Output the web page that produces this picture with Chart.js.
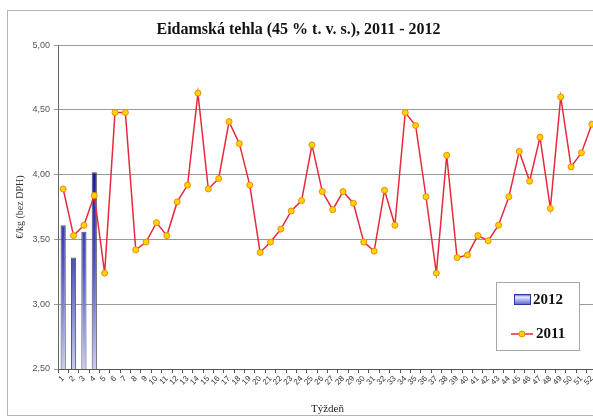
<!DOCTYPE html>
<html>
<head>
<meta charset="utf-8">
<script src="https://cdn.jsdelivr.net/npm/chart.js@4"></script>
<style>
  html, body { margin: 0; padding: 0; background: #fff; overflow: hidden; }
  #wrap { position: absolute; left: 0; top: 0; width: 630px; height: 420px; }
</style>
</head>
<body>
<div id="wrap"><canvas id="c"></canvas></div>
<script>
const TITLE = "Eidamská tehla (45 % t. v. s.), 2011 - 2012";
const WEEKS = [];
for (let i = 1; i <= 52; i++) WEEKS.push(String(i));

const Y2011 = [
  3.89, 3.53, 3.61, 3.84, 3.24, 4.48, 4.48, 3.42, 3.48, 3.63,
  3.53, 3.79, 3.92, 4.63, 3.89, 3.97, 4.41, 4.24, 3.92, 3.40,
  3.48, 3.58, 3.72, 3.80, 4.23, 3.87, 3.73, 3.87, 3.78, 3.48,
  3.41, 3.88, 3.61, 4.48, 4.38, 3.83, 3.24, 4.15, 3.36, 3.38,
  3.53, 3.49, 3.61, 3.83, 4.18, 3.95, 4.29, 3.74, 4.60, 4.06,
  4.17, 4.39
];
const Y2012 = [3.61, 3.36, 3.56, 4.02];

const SERIF = "'Liberation Serif', 'DejaVu Serif', serif";
const SANS = "'Liberation Sans', Arial, sans-serif";

function barFill(c) {
  const { chartArea, ctx } = c.chart;
  if (!chartArea) return "#2030b0";
  const g = ctx.createLinearGradient(0, chartArea.top + 120, 0, chartArea.bottom);
  g.addColorStop(0, "#16169a");
  g.addColorStop(0.5, "#5058c0");
  g.addColorStop(1, "#c8ccf0");
  return g;
}

const frame = {
  id: "frame",
  beforeDraw(chart) {
    const ctx = chart.ctx;
    ctx.save();
    ctx.fillStyle = "#fff";
    ctx.fillRect(0, 0, chart.width, chart.height);
    ctx.strokeStyle = "#b4b4b4";
    ctx.lineWidth = 1;
    ctx.strokeRect(7.5, 10.5, chart.width, 405);
    ctx.restore();
  },
  afterDraw(chart) {
    const ctx = chart.ctx;
    ctx.save();
    ctx.fillStyle = "#fff";
    ctx.strokeStyle = "#a8a8a8";
    ctx.fillRect(496.5, 282.5, 83, 68);
    ctx.strokeRect(496.5, 282.5, 83, 68);

    const g = ctx.createLinearGradient(0, 294, 0, 304);
    g.addColorStop(0, "#3040b8");
    g.addColorStop(0.3, "#e8eaff");
    g.addColorStop(1, "#6070d0");
    ctx.fillStyle = g;
    ctx.fillRect(514.5, 294.5, 16, 10);
    ctx.strokeStyle = "#2838a8";
    ctx.strokeRect(514.5, 294.5, 16, 10);

    ctx.strokeStyle = "#e8283c";
    ctx.lineWidth = 1.5;
    ctx.beginPath();
    ctx.moveTo(511, 334);
    ctx.lineTo(533, 334);
    ctx.stroke();
    ctx.beginPath();
    ctx.arc(522, 334, 3, 0, Math.PI * 2);
    ctx.fillStyle = "#ffd400";
    ctx.fill();
    ctx.strokeStyle = "#f08c00";
    ctx.lineWidth = 1;
    ctx.stroke();

    ctx.fillStyle = "#111";
    ctx.font = "bold 15px " + SERIF;
    ctx.textBaseline = "middle";
    ctx.fillText("2012", 533, 300);
    ctx.fillText("2011", 536, 334);
    ctx.restore();
  }
};

new Chart(document.getElementById("c"), {
  data: {
    labels: WEEKS,
    datasets: [
      {
        type: "line",
        label: "2011",
        data: Y2011,
        order: 0,
        borderColor: "#e8283c",
        borderWidth: 1.5,
        tension: 0,
        pointRadius: 3,
        pointBackgroundColor: "#ffd400",
        pointBorderColor: "#f08c00",
        pointBorderWidth: 1,
      },
      {
        type: "bar",
        label: "2012",
        data: Y2012,
        order: 1,
        backgroundColor: barFill,
        borderColor: "#505060",
        borderWidth: 1,
        barPercentage: 0.5,
        categoryPercentage: 1,
      },
    ],
  },
  options: {
    responsive: true,
    maintainAspectRatio: false,
    animation: false,
    layout: { padding: { left: 0, right: 33, top: 0, bottom: 0 } },
    plugins: {
      legend: { display: false },
      tooltip: { enabled: false },
      title: {
        display: true,
        text: TITLE,
        color: "#111",
        font: { family: SERIF, size: 16, weight: "bold" },
        padding: { top: 20, bottom: 6 },
      },
    },
    scales: {
      x: {
        afterFit: (s) => { s.height = 51; },
        grid: { display: true, drawOnChartArea: false, offset: true, tickLength: 4, color: "#555" },
        border: { color: "#555" },
        ticks: { color: "#333", font: { family: SANS, size: 8 }, minRotation: 45, maxRotation: 45, autoSkip: false, padding: 1 },
        title: { display: true, text: "Týždeň", color: "#222", font: { family: SERIF, size: 11 }, padding: { top: 0, bottom: 4 } },
      },
      y: {
        min: 2.5,
        max: 5,
        afterFit: (s) => { s.width = 58; },
        grid: { color: "#999", tickLength: 4 },
        border: { color: "#666" },
        ticks: {
          stepSize: 0.5,
          color: "#555",
          padding: 4,
          font: { family: SANS, size: 9 },
          callback: (v) => v.toFixed(2).replace(".", ","),
        },
        title: { display: true, text: "€/kg (bez DPH)", color: "#333", font: { family: SERIF, size: 10 }, padding: { top: 14, bottom: 0 } },
      },
    },
  },
  plugins: [frame],
});
</script>
</body>
</html>
